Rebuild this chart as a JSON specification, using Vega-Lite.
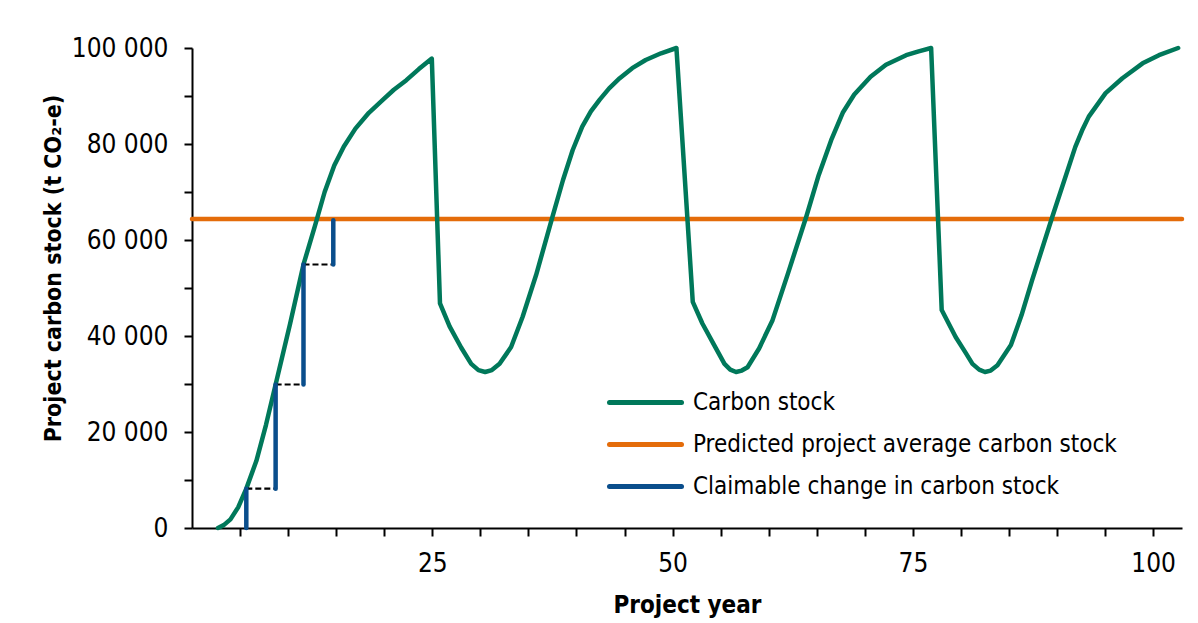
{
  "$schema": "https://vega.github.io/schema/vega-lite/v6.json",
  "width": 990,
  "height": 480,
  "autosize": {"type": "none"},
  "padding": {"left": 192, "top": 48, "right": 16, "bottom": 95},
  "background": "white",
  "config": {
    "view": {"stroke": null},
    "font": "'DejaVu Sans Condensed', 'Liberation Sans', sans-serif",
    "axis": {
      "labelFont": "'DejaVu Sans Condensed', 'Liberation Sans', sans-serif",
      "titleFont": "'DejaVu Sans Condensed', 'Liberation Sans', sans-serif",
      "labelColor": "black",
      "titleColor": "black",
      "domainColor": "black",
      "tickColor": "black",
      "domainWidth": 2,
      "tickWidth": 2,
      "grid": false
    }
  },
  "datasets": {
    "stock": [
      {"year": 2.7, "stock": 0},
      {"year": 3.3, "stock": 600},
      {"year": 4.0, "stock": 1800},
      {"year": 4.8, "stock": 4300},
      {"year": 5.65, "stock": 8200},
      {"year": 6.7, "stock": 14000},
      {"year": 7.7, "stock": 21500},
      {"year": 8.7, "stock": 29900},
      {"year": 10.2, "stock": 42500},
      {"year": 11.6, "stock": 54900},
      {"year": 12.8, "stock": 63000},
      {"year": 13.8, "stock": 70000},
      {"year": 14.8, "stock": 75500},
      {"year": 15.8, "stock": 79500},
      {"year": 17.0, "stock": 83200},
      {"year": 18.4, "stock": 86500},
      {"year": 19.85, "stock": 89200},
      {"year": 21.0, "stock": 91300},
      {"year": 22.3, "stock": 93300},
      {"year": 23.6, "stock": 95600},
      {"year": 24.95, "stock": 97800},
      {"year": 25.8, "stock": 46800},
      {"year": 26.8, "stock": 42000},
      {"year": 28.0, "stock": 37600},
      {"year": 29.05, "stock": 34200},
      {"year": 29.8, "stock": 32900},
      {"year": 30.5, "stock": 32500},
      {"year": 31.2, "stock": 32900},
      {"year": 32.0, "stock": 34200},
      {"year": 33.2, "stock": 37700},
      {"year": 34.4, "stock": 44000},
      {"year": 35.8, "stock": 52700},
      {"year": 37.5, "stock": 64800},
      {"year": 38.6, "stock": 72500},
      {"year": 39.6, "stock": 78700},
      {"year": 40.6, "stock": 83600},
      {"year": 41.5, "stock": 86800},
      {"year": 42.4, "stock": 89200},
      {"year": 43.4, "stock": 91600},
      {"year": 44.5, "stock": 93700},
      {"year": 45.8, "stock": 95800},
      {"year": 47.2, "stock": 97500},
      {"year": 48.8, "stock": 98900},
      {"year": 50.4, "stock": 100000},
      {"year": 52.1, "stock": 47100},
      {"year": 53.1, "stock": 42600},
      {"year": 54.3, "stock": 38200},
      {"year": 55.4, "stock": 34200},
      {"year": 56.0, "stock": 33000},
      {"year": 56.6, "stock": 32500},
      {"year": 57.2, "stock": 32800},
      {"year": 57.8, "stock": 33500},
      {"year": 59.0, "stock": 37400},
      {"year": 60.4, "stock": 43300},
      {"year": 62.0, "stock": 53000},
      {"year": 63.9, "stock": 64800},
      {"year": 65.2, "stock": 73500},
      {"year": 66.5, "stock": 80800},
      {"year": 67.7, "stock": 86500},
      {"year": 68.9, "stock": 90300},
      {"year": 70.6, "stock": 94000},
      {"year": 72.2, "stock": 96500},
      {"year": 74.3, "stock": 98500},
      {"year": 75.6, "stock": 99300},
      {"year": 76.9, "stock": 100000},
      {"year": 78.0, "stock": 45400},
      {"year": 79.45, "stock": 39800},
      {"year": 80.4, "stock": 36800},
      {"year": 81.2, "stock": 34200},
      {"year": 81.9, "stock": 33000},
      {"year": 82.5, "stock": 32500},
      {"year": 83.1, "stock": 32800},
      {"year": 83.8, "stock": 33900},
      {"year": 85.2, "stock": 38100},
      {"year": 86.3, "stock": 44300},
      {"year": 87.4, "stock": 51600},
      {"year": 89.5, "stock": 64800},
      {"year": 91.9, "stock": 79400},
      {"year": 92.6, "stock": 82800},
      {"year": 93.3, "stock": 85700},
      {"year": 95.05, "stock": 90600},
      {"year": 96.8, "stock": 93700},
      {"year": 98.9, "stock": 96800},
      {"year": 100.6, "stock": 98500},
      {"year": 102.6, "stock": 100000}
    ],
    "avg": [
      {"year": 0, "stock": 64400},
      {"year": 103, "stock": 64400}
    ],
    "claim": [
      {"year": 5.65, "from": 0, "to": 8200},
      {"year": 8.7, "from": 8200, "to": 29900},
      {"year": 11.6, "from": 29900, "to": 54900},
      {"year": 14.7, "from": 54900, "to": 64100}
    ],
    "dash": [
      {"start": 5.65, "end": 8.7, "level": 8200},
      {"start": 8.7, "end": 11.6, "level": 29900},
      {"start": 11.6, "end": 14.7, "level": 54900}
    ]
  },
  "encoding": {
    "x": {
      "type": "quantitative",
      "scale": {"domain": [0, 103], "nice": false, "zero": false},
      "axis": {
        "title": "Project year",
        "values": [5, 10, 15, 20, 25, 30, 35, 40, 45, 50, 55, 60, 65, 70, 75, 80, 85, 90, 95, 100],
        "labelExpr": "datum.value % 25 === 0 ? datum.label : ''",
        "labelFontSize": 26,
        "labelPadding": 14,
        "tickSize": 8,
        "titleFontSize": 24,
        "titleFontWeight": "bold",
        "titlePadding": 17
      }
    },
    "y": {
      "type": "quantitative",
      "scale": {"domain": [0, 100000], "nice": false},
      "axis": {
        "title": "Project carbon stock (t CO₂-e)",
        "values": [0, 10000, 20000, 30000, 40000, 50000, 60000, 70000, 80000, 90000, 100000],
        "labelExpr": "datum.value % 20000 === 0 ? replace(format(datum.value, ','), ',', ' ') : ''",
        "labelFontSize": 26,
        "labelPadding": 16,
        "tickSize": 8,
        "titleFontSize": 23,
        "titleFontWeight": "bold",
        "titlePadding": 6,
        "titleY": 220
      }
    }
  },
  "layer": [
    {
      "data": {"name": "avg"},
      "mark": {"type": "line", "strokeWidth": 4.5, "strokeCap": "round"},
      "encoding": {
        "x": {"field": "year", "type": "quantitative"},
        "y": {"field": "stock", "type": "quantitative"},
        "color": {
          "datum": "Predicted project average carbon stock",
          "type": "nominal",
          "scale": {
            "domain": ["Carbon stock", "Predicted project average carbon stock", "Claimable change in carbon stock"],
            "range": ["#00785A", "#E46C0A", "#0A4E8C"]
          },
          "legend": {
            "title": null,
            "orient": "none",
            "legendX": 439,
            "legendY": 340,
            "direction": "vertical",
            "padding": 0,
            "symbolType": "M-3,0H3",
            "symbolSize": 576,
            "symbolStrokeWidth": 5,
            "labelFont": "'DejaVu Sans Condensed', 'Liberation Sans', sans-serif",
            "labelFontSize": 24,
            "labelColor": "black",
            "labelOffset": 33,
            "rowPadding": 15,
            "labelLimit": 600,
            "encode": {"symbols": {"update": {"strokeCap": {"value": "round"}}}}
          }
        }
      }
    },
    {
      "data": {"name": "stock"},
      "mark": {"type": "line", "strokeWidth": 4.5, "strokeCap": "round", "strokeJoin": "round"},
      "encoding": {
        "x": {"field": "year", "type": "quantitative"},
        "y": {"field": "stock", "type": "quantitative"},
        "color": {"datum": "Carbon stock", "type": "nominal"}
      }
    },
    {
      "data": {"name": "dash"},
      "mark": {"type": "rule", "strokeWidth": 2.2, "strokeDash": [6, 3], "color": "black"},
      "encoding": {
        "x": {"field": "start", "type": "quantitative"},
        "x2": {"field": "end"},
        "y": {"field": "level", "type": "quantitative"}
      }
    },
    {
      "data": {"name": "claim"},
      "mark": {"type": "rule", "strokeWidth": 4.5, "strokeCap": "round"},
      "encoding": {
        "x": {"field": "year", "type": "quantitative"},
        "y": {"field": "from", "type": "quantitative"},
        "y2": {"field": "to"},
        "color": {"datum": "Claimable change in carbon stock", "type": "nominal"}
      }
    }
  ]
}
